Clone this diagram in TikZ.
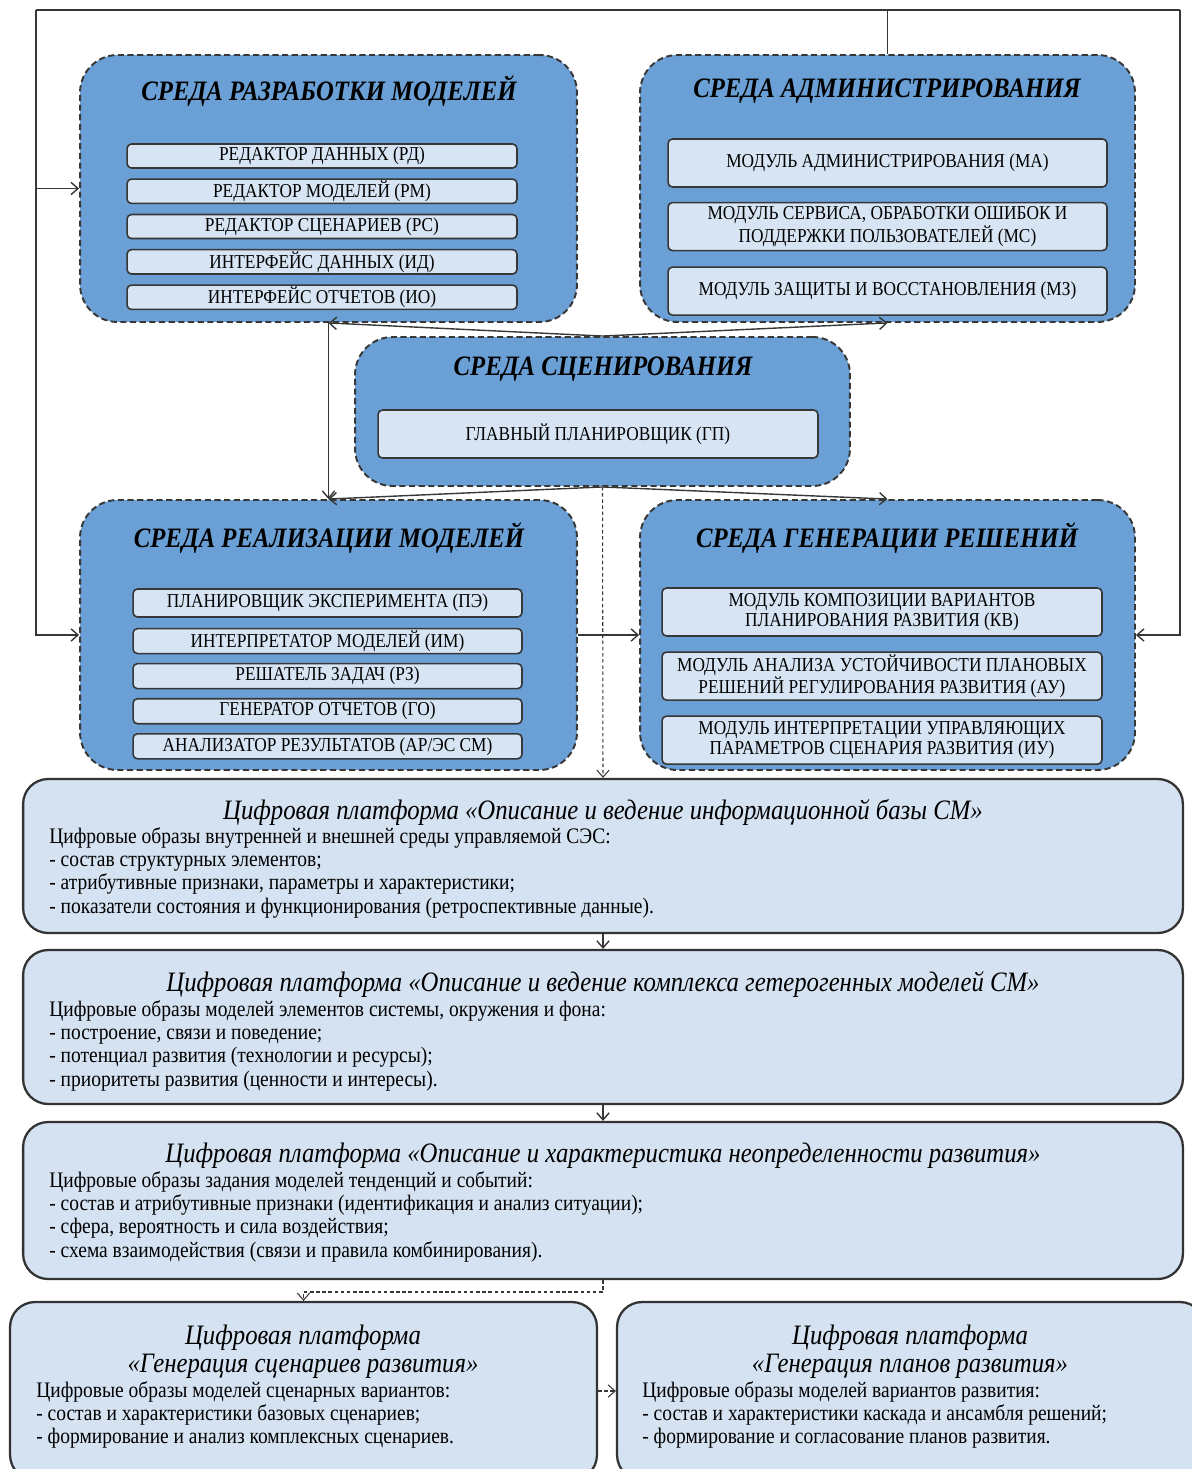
\documentclass[tikz,border=0pt]{standalone}
\usepackage{fontspec}
\setmainfont[FakeStretch=0.88]{Liberation Serif}
\usetikzlibrary{positioning,calc}
\usetikzlibrary{arrows.meta}

\definecolor{envblue}{RGB}{106,160,213}
\definecolor{unitblue}{RGB}{214,228,243}
\definecolor{platblue}{RGB}{213,226,242}
\definecolor{linegray}{RGB}{55,55,55}

\begin{document}
\begin{tikzpicture}[x=0.02cm, y=-0.02cm,
      envbox/.style = {draw=linegray, fill=envblue, line width=1.1pt,
         dash pattern=on 3.5pt off 2pt, rounded corners=0.75cm, inner sep=0pt},
      unitbox/.style = {draw=linegray, fill=unitblue, line width=0.9pt,
         rounded corners=2.5pt, align=center, inner sep=1pt,
         font=\fontsize{11.2}{11.3}\selectfont},
      platbox/.style = {draw=black!80, fill=platblue, line width=1.3pt,
         rounded corners=0.5cm, inner sep=0pt},
      envtitle/.style = {font=\fontsize{16}{19}\selectfont\bfseries\itshape},
      plattitle/.style = {font=\fontsize{16}{16}\selectfont\itshape, align=center},
      platbody/.style = {font=\fontsize{12.6}{13.3}\selectfont, align=left,
         anchor=north west, inner sep=0pt},
      link/.style = {draw=linegray, line width=0.8pt,
         arrows={-Straight Barb[length=4pt,width=7pt]}},
      dashlink/.style = {link, line width=0.6pt, dash pattern=on 2pt off 1.5pt}
]
      \useasboundingbox (0,0) rectangle (1192,1469);
      \clip (0,0) rectangle (1192,1469);

      % environments
      \node[envbox, minimum width=9.94cm, minimum height=5.34cm] (er) at (328.5,188.5) {};
      \node[envbox, minimum width=9.9cm,  minimum height=5.34cm] (ea) at (887.5,188.5) {};
      \node[envbox, minimum width=9.9cm,  minimum height=2.98cm] (es) at (602.5,411.5) {};
      \node[envbox, minimum width=9.94cm, minimum height=5.4cm]  (ei) at (328.5,635) {};
      \node[envbox, minimum width=9.9cm,  minimum height=5.4cm]  (eg) at (887.5,635) {};

      \node[envtitle] (ert) at (329,91)  {СРЕДА РАЗРАБОТКИ МОДЕЛЕЙ};
      \node[envtitle] (eat) at (887,91)  {СРЕДА АДМИНИСТРИРОВАНИЯ};
      \node[envtitle] (est) at (603,369) {СРЕДА СЦЕНИРОВАНИЯ};
      \node[envtitle] (eit) at (329,538) {СРЕДА РЕАЛИЗАЦИИ МОДЕЛЕЙ};
      \node[envtitle] (egt) at (887,538) {СРЕДА ГЕНЕРАЦИИ РЕШЕНИЙ};

      % model development units
      \node[unitbox, minimum width=7.8cm, minimum height=0.48cm] (er1) at (322,156) {РЕДАКТОР ДАННЫХ (РД)};
      \node[unitbox, minimum width=7.8cm, minimum height=0.48cm, below=0.19cm of er1] (er2) {РЕДАКТОР МОДЕЛЕЙ (РМ)};
      \node[unitbox, minimum width=7.8cm, minimum height=0.48cm, below=0.19cm of er2] (er3) {РЕДАКТОР СЦЕНАРИЕВ (РС)};
      \node[unitbox, minimum width=7.8cm, minimum height=0.48cm, below=0.19cm of er3] (er4) {ИНТЕРФЕЙС ДАННЫХ (ИД)};
      \node[unitbox, minimum width=7.8cm, minimum height=0.48cm, below=0.19cm of er4] (er5) {ИНТЕРФЕЙС ОТЧЕТОВ (ИО)};

      % administration units
      \node[unitbox, minimum width=8.78cm, minimum height=0.96cm] (ea1) at (887.5,163) {МОДУЛЬ АДМИНИСТРИРОВАНИЯ (МА)};
      \node[unitbox, minimum width=8.78cm, minimum height=0.96cm, below=0.28cm of ea1] (ea2)
         {МОДУЛЬ СЕРВИСА, ОБРАБОТКИ ОШИБОК И\\ПОДДЕРЖКИ ПОЛЬЗОВАТЕЛЕЙ (МС)};
      \node[unitbox, minimum width=8.78cm, minimum height=0.96cm, below=0.3cm of ea2] (ea3) {МОДУЛЬ ЗАЩИТЫ И ВОССТАНОВЛЕНИЯ (МЗ)};

      % scenario unit
      \node[unitbox, minimum width=8.8cm, minimum height=0.96cm] (es1) at (598,434) {ГЛАВНЫЙ ПЛАНИРОВЩИК (ГП)};

      % model realisation units
      \node[unitbox, minimum width=7.78cm, minimum height=0.56cm] (ei1) at (327.5,603) {ПЛАНИРОВЩИК ЭКСПЕРИМЕНТА (ПЭ)};
      \node[unitbox, minimum width=7.78cm, minimum height=0.5cm, below=0.2cm of ei1] (ei2) {ИНТЕРПРЕТАТОР МОДЕЛЕЙ (ИМ)};
      \node[unitbox, minimum width=7.78cm, minimum height=0.5cm, below=0.17cm of ei2] (ei3) {РЕШАТЕЛЬ ЗАДАЧ (РЗ)};
      \node[unitbox, minimum width=7.78cm, minimum height=0.5cm, below=0.17cm of ei3] (ei4) {ГЕНЕРАТОР ОТЧЕТОВ (ГО)};
      \node[unitbox, minimum width=7.78cm, minimum height=0.5cm, below=0.17cm of ei4] (ei5) {АНАЛИЗАТОР РЕЗУЛЬТАТОВ (АР/ЭС СМ)};

      % decision generation units
      \node[unitbox, minimum width=8.8cm, minimum height=0.96cm] (eg1) at (882,612)
         {МОДУЛЬ КОМПОЗИЦИИ ВАРИАНТОВ\\ПЛАНИРОВАНИЯ РАЗВИТИЯ (КВ)};
      \node[unitbox, minimum width=8.8cm, minimum height=0.96cm, below=0.29cm of eg1] (eg2)
         {МОДУЛЬ АНАЛИЗА УСТОЙЧИВОСТИ ПЛАНОВЫХ\\РЕШЕНИЙ РЕГУЛИРОВАНИЯ РАЗВИТИЯ (АУ)};
      \node[unitbox, minimum width=8.8cm, minimum height=0.96cm, below=0.29cm of eg2] (eg3)
         {МОДУЛЬ ИНТЕРПРЕТАЦИИ УПРАВЛЯЮЩИХ\\ПАРАМЕТРОВ СЦЕНАРИЯ РАЗВИТИЯ (ИУ)};

      % digital platforms
      \node[platbox, minimum width=23.2cm, minimum height=3.08cm] (p1) at (603,856)  {};
      \node[platbox, minimum width=23.2cm, minimum height=3.08cm] (p2) at (603,1027) {};
      \node[platbox, minimum width=23.2cm, minimum height=3.14cm] (p3) at (603,1200.5) {};
      \node[platbox, minimum width=11.74cm, minimum height=3.56cm] (p4) at (303.5,1391) {};
      \node[platbox, minimum width=11.76cm, minimum height=3.56cm] (p5) at (911,1391) {};

      \node[plattitle] (p1t) at (603,812)
         {Цифровая платформа «Описание и ведение информационной базы СМ»};
      \node[platbody] (p1b) at (49,827) {Цифровые образы внутренней и внешней среды управляемой СЭС:\\
         - состав структурных элементов;\\
         - атрибутивные признаки, параметры и характеристики;\\
         - показатели состояния и функционирования (ретроспективные данные).};

      \node[plattitle] (p2t) at (603,984)
         {Цифровая платформа «Описание и ведение комплекса гетерогенных моделей СМ»};
      \node[platbody] (p2b) at (49,1000) {Цифровые образы моделей элементов системы, окружения и фона:\\
         - построение, связи и поведение;\\
         - потенциал развития (технологии и ресурсы);\\
         - приоритеты развития (ценности и интересы).};

      \node[plattitle] (p3t) at (603,1156)
         {Цифровая платформа «Описание и характеристика неопределенности развития»};
      \node[platbody] (p3b) at (49,1171) {Цифровые образы задания моделей тенденций и событий:\\
         - состав и атрибутивные признаки (идентификация и анализ ситуации);\\
         - сфера, вероятность и сила воздействия;\\
         - схема взаимодействия (связи и правила комбинирования).};

      \node[plattitle] (p4t) at (303,1352)
         {Цифровая платформа\\«Генерация сценариев развития»};
      \node[platbody] (p4b) at (36,1381) {Цифровые образы моделей сценарных вариантов:\\
         - состав и характеристики базовых сценариев;\\
         - формирование и анализ комплексных сценариев.};

      \node[plattitle] (p5t) at (910,1352)
         {Цифровая платформа\\«Генерация планов развития»};
      \node[platbody] (p5b) at (642,1381) {Цифровые образы моделей вариантов развития:\\
         - состав и характеристики каскада и ансамбля решений;\\
         - формирование и согласование планов развития.};

      % outer feedback loop
      \coordinate (tl) at (36,10);
      \coordinate (tr) at (1180,10);
      \draw[link, arrows=-] (ea.north) -- (ea.north |- tl);
      \draw[link, arrows=-] (tl) -- (tr);
      \draw[link] (tl) |- (ei.west);
      \draw[link] (tl |- er.west) -- (er.west);
      \draw[link] (tr) |- (eg.east);

      % scenario links
      \draw[link] (es.north) -- (er.south);
      \draw[link] (es.north) -- (ea.south);
      \draw[link] (er.south) -- (ei.north);
      \draw[link] (es.south) -- (ei.north);
      \draw[link] (es.south) -- (eg.north);
      \draw[link] (ei.east) -- (eg.west);

      % platform chain
      \coordinate (turn) at (603,1292);
      \draw[dashlink] (es.south) -- (p1.north);
      \draw[link] (p1.south) -- (p2.north);
      \draw[link] (p2.south) -- (p3.north);
      \draw[dashlink] (p3.south) -- (turn) -| (p4.north);
      \draw[dashlink] (p4.east) -- (p5.west);
\end{tikzpicture}
\end{document}
